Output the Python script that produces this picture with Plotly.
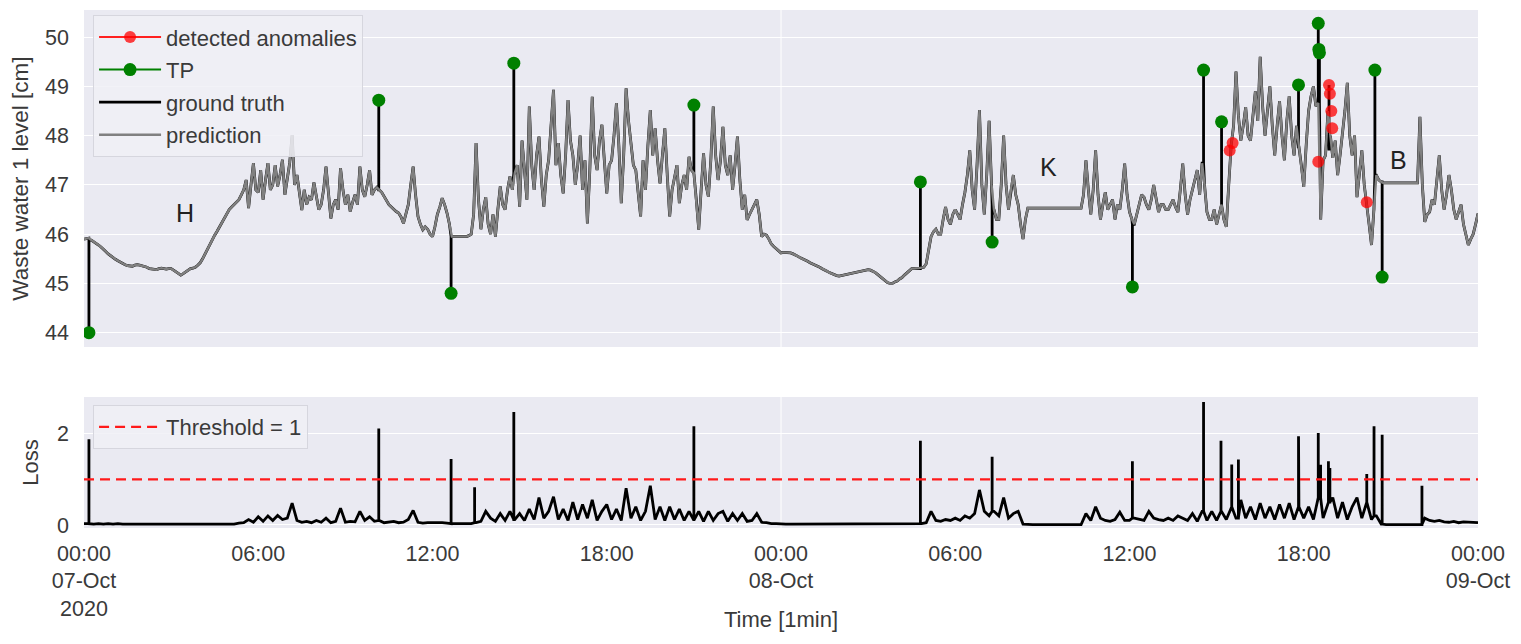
import datetime as dt
import plotly.graph_objects as go

START = dt.datetime(2020, 10, 7)
PRED_STEP_H = 1 / 12   # prediction read every 5 minutes
LOSS_STEP_H = 1 / 6    # loss read every 10 minutes

# ---- prediction (water level, cm): one row per hour, 5-minute steps ----
prediction = [
    45.90, 45.91, 45.92, 45.88, 45.85, 45.82, 45.78, 45.74, 45.70, 45.65, 45.60, 45.56,  # 00h
    45.52, 45.49, 45.46, 45.43, 45.40, 45.38, 45.36, 45.35, 45.35, 45.37, 45.38, 45.37,  # 01h
    45.36, 45.35, 45.33, 45.30, 45.29, 45.28, 45.28, 45.30, 45.31, 45.30, 45.29, 45.30,  # 02h
    45.30, 45.27, 45.24, 45.20, 45.17, 45.20, 45.23, 45.27, 45.30, 45.31, 45.33, 45.37,  # 03h
    45.42, 45.50, 45.60, 45.70, 45.80, 45.90, 45.98, 46.06, 46.15, 46.24, 46.32, 46.42,  # 04h
    46.50, 46.55, 46.60, 46.66, 46.70, 46.80, 46.90, 47.10, 46.53, 47.00, 47.44, 46.90,  # 05h
    46.85, 47.30, 46.70, 47.10, 47.44, 46.90, 47.00, 47.40, 46.97, 47.20, 47.51, 46.80,  # 06h
    47.10, 47.45, 48.01, 47.00, 47.20, 46.80, 46.49, 46.90, 46.60, 46.75, 46.70, 47.05,  # 07h
    46.75, 46.50, 46.60, 46.90, 47.37, 46.80, 46.32, 46.60, 46.70, 46.50, 47.34, 46.90,  # 08h
    46.60, 46.80, 46.46, 46.65, 46.80, 46.60, 47.37, 46.90, 46.76, 47.00, 47.30, 46.80,  # 09h
    46.90, 46.95, 46.90, 46.85, 46.76, 46.68, 46.60, 46.55, 46.50, 46.46, 46.43, 46.35,  # 10h
    46.22, 46.40, 46.60, 47.00, 47.37, 46.80, 46.36, 46.20, 46.09, 46.15, 46.10, 46.00,  # 11h
    45.95, 46.15, 46.40, 46.55, 46.73, 46.60, 46.43, 46.20, 45.95, 45.95, 45.95, 45.95,  # 12h
    45.95, 45.96, 45.95, 45.97, 46.00, 46.40, 47.85, 46.70, 46.10, 46.50, 46.75, 46.20,  # 13h
    46.00, 46.40, 45.95, 46.50, 46.97, 46.60, 46.50, 46.90, 47.17, 46.90, 47.24, 47.40,  # 14h
    46.56, 47.90, 47.30, 46.70, 48.59, 47.40, 46.90, 47.60, 47.98, 47.10, 46.56, 47.20,  # 15h
    47.51, 48.20, 48.93, 47.40, 47.85, 47.20, 46.83, 47.60, 48.72, 47.90, 47.60, 47.00,  # 16h
    47.40, 48.00, 46.90, 47.50, 46.22, 47.30, 48.79, 47.60, 47.30, 47.90, 48.22, 47.50,  # 17h
    46.83, 47.40, 47.50, 48.00, 48.66, 47.80, 46.63, 47.60, 48.96, 48.30, 47.91, 47.40,  # 18h
    47.30, 46.80, 46.36, 47.50, 46.90, 47.80, 48.52, 47.60, 48.15, 47.50, 47.03, 47.60,  # 19h
    48.15, 47.20, 46.36, 46.90, 47.17, 47.40, 46.63, 47.00, 47.20, 46.90, 47.57, 47.30,  # 20h
    47.24, 46.70, 46.09, 46.90, 47.64, 47.00, 46.76, 47.50, 48.59, 47.60, 47.10, 47.50,  # 21h
    48.18, 47.40, 47.20, 47.60, 46.90, 47.40, 47.98, 47.10, 46.50, 46.80, 46.29, 46.40,  # 22h
    46.50, 46.60, 46.70, 46.40, 45.95, 46.00, 45.98, 45.90, 45.80, 45.75, 45.70, 45.65,  # 23h
    45.62, 45.63, 45.63, 45.62, 45.62, 45.60, 45.58, 45.55, 45.52, 45.50, 45.47, 45.45,  # 24h
    45.42, 45.40, 45.38, 45.36, 45.33, 45.30, 45.28, 45.25, 45.22, 45.20, 45.17, 45.16,  # 25h
    45.15, 45.16, 45.18, 45.19, 45.20, 45.21, 45.22, 45.23, 45.24, 45.25, 45.25, 45.27,  # 26h
    45.28, 45.27, 45.25, 45.22, 45.18, 45.14, 45.10, 45.06, 45.02, 45.00, 45.00, 45.03,  # 27h
    45.05, 45.09, 45.12, 45.17, 45.22, 45.27, 45.30, 45.30, 45.30, 45.31, 45.32, 45.33,  # 28h
    45.40, 45.70, 45.95, 46.05, 46.10, 46.00, 46.00, 46.30, 46.55, 46.30, 46.20, 46.40,  # 29h
    46.50, 46.40, 46.30, 46.60, 46.85, 47.20, 47.70, 46.90, 46.50, 47.40, 48.52, 47.00,  # 30h
    46.40, 47.20, 48.30, 47.00, 46.50, 46.30, 46.30, 47.00, 48.00, 47.00, 46.50, 46.90,  # 31h
    47.20, 46.80, 46.60, 46.20, 45.90, 46.30, 46.53, 46.53, 46.53, 46.53, 46.53, 46.53,  # 32h
    46.53, 46.53, 46.53, 46.53, 46.53, 46.53, 46.53, 46.53, 46.53, 46.53, 46.53, 46.53,  # 33h
    46.53, 46.53, 46.53, 46.53, 46.53, 46.80, 47.50, 46.90, 46.40, 46.90, 47.70, 46.80,  # 34h
    46.30, 46.60, 46.85, 46.50, 46.60, 46.70, 46.30, 46.60, 46.50, 46.90, 47.43, 46.80,  # 35h
    46.45, 46.30, 46.20, 46.40, 46.60, 46.80, 46.75, 46.60, 46.50, 46.70, 47.00, 46.70,  # 36h
    46.45, 46.60, 46.60, 46.50, 46.50, 46.60, 46.70, 46.55, 46.45, 46.90, 47.43, 46.80,  # 37h
    46.40, 46.70, 46.90, 47.10, 47.30, 46.80, 47.44, 47.00, 46.45, 46.30, 46.30, 46.50,  # 38h
    46.20, 46.40, 46.60, 46.30, 46.15, 47.00, 47.80, 48.20, 49.30, 48.40, 47.90, 48.20,  # 39h
    48.58, 48.00, 47.90, 48.40, 48.90, 48.30, 49.60, 48.60, 48.00, 48.50, 49.00, 48.20,  # 40h
    47.60, 48.20, 48.70, 48.00, 47.50, 48.30, 48.80, 48.00, 47.60, 48.20, 47.77, 47.40,  # 41h
    46.96, 47.80, 48.50, 48.80, 49.00, 48.60, 48.66, 46.30, 47.50, 47.60, 48.50, 48.00,  # 42h
    47.55, 47.90, 47.20, 47.60, 48.00, 48.50, 49.07, 48.00, 47.60, 48.00, 46.75, 47.30,  # 43h
    47.70, 47.00, 46.65, 46.20, 45.78, 46.50, 47.20, 47.10, 47.06, 47.04, 47.04, 47.04,  # 44h
    47.04, 47.04, 47.04, 47.04, 47.04, 47.04, 47.04, 47.04, 47.04, 47.04, 47.04, 47.04,  # 45h
    48.38, 47.00, 46.25, 46.40, 46.45, 46.70, 46.60, 47.10, 47.60, 46.90, 46.50, 46.80,  # 46h
    47.20, 46.90, 46.50, 46.30, 46.45, 46.60, 46.20, 46.00, 45.78, 45.90, 46.00, 46.20,  # 47h
    46.42,                                                                              # 48h
]

# ---- loss: one row per hour, 10-minute steps ----
loss = [
    0.03, 0.03, 0.02, 0.03, 0.02, 0.03,   # 00h
    0.02, 0.03, 0.02, 0.02, 0.03, 0.02,
    0.02, 0.03, 0.02, 0.03, 0.02, 0.03,
    0.03, 0.02, 0.03, 0.02, 0.03, 0.02,
    0.03, 0.02, 0.03, 0.03, 0.02, 0.03,
    0.03, 0.02, 0.04, 0.05, 0.12, 0.06,   # 05h
    0.18, 0.08, 0.20, 0.10, 0.21, 0.12,
    0.15, 0.48, 0.10, 0.06, 0.08, 0.05,
    0.10, 0.06, 0.15, 0.05, 0.08, 0.37,
    0.06, 0.08, 0.07, 0.30, 0.10, 0.18,
    0.08, 0.10, 0.05, 0.06, 0.08, 0.05,   # 10h
    0.06, 0.12, 0.32, 0.06, 0.04, 0.05,
    0.05, 0.06, 0.05, 0.04, 0.03, 0.03,
    0.03, 0.04, 0.03, 0.05, 0.08, 0.30,
    0.15, 0.08, 0.25, 0.10, 0.30, 0.12,
    0.25, 0.10, 0.35, 0.12, 0.60, 0.15,   # 15h
    0.30, 0.62, 0.12, 0.35, 0.10, 0.50,
    0.12, 0.45, 0.15, 0.55, 0.10, 0.30,
    0.45, 0.12, 0.35, 0.10, 0.81, 0.15,
    0.40, 0.10, 0.30, 0.86, 0.12, 0.40,
    0.10, 0.40, 0.12, 0.35, 0.10, 0.30,   # 20h
    0.10, 0.30, 0.08, 0.30, 0.10, 0.25,
    0.30, 0.08, 0.25, 0.10, 0.25, 0.08,
    0.10, 0.25, 0.06, 0.05, 0.03, 0.03,
    0.02, 0.02, 0.02, 0.02, 0.02, 0.02,
    0.02, 0.02, 0.02, 0.02, 0.02, 0.02,   # 25h
    0.02, 0.02, 0.02, 0.02, 0.02, 0.02,
    0.02, 0.02, 0.02, 0.02, 0.02, 0.02,
    0.02, 0.02, 0.02, 0.03, 0.03, 0.03,
    0.05, 0.30, 0.10, 0.08, 0.12, 0.10,
    0.15, 0.10, 0.20, 0.15, 0.25, 0.77,   # 30h
    0.30, 0.20, 0.30, 0.20, 0.60, 0.15,
    0.25, 0.30, 0.02, 0.01, 0.01, 0.01,
    0.01, 0.01, 0.01, 0.01, 0.01, 0.01,
    0.01, 0.01, 0.01, 0.25, 0.10, 0.40,
    0.15, 0.10, 0.08, 0.12, 0.28, 0.10,   # 35h
    0.10, 0.15, 0.12, 0.10, 0.30, 0.15,
    0.12, 0.10, 0.15, 0.10, 0.20, 0.15,
    0.10, 0.25, 0.08, 0.30, 0.10, 0.30,
    0.10, 0.30, 0.12, 0.40, 0.15, 0.55,
    0.15, 0.40, 0.12, 0.48, 0.15, 0.40,   # 40h
    0.12, 0.45, 0.15, 0.48, 0.12, 0.40,
    0.15, 0.40, 0.12, 0.60, 0.15, 0.50,
    0.60, 0.15, 0.50, 0.12, 0.40, 0.60,
    0.15, 0.50, 0.12, 0.20, 0.02, 0.01,
    0.01, 0.01, 0.01, 0.01, 0.01, 0.01,   # 45h
    0.01, 0.15, 0.10, 0.08, 0.10, 0.07,
    0.06, 0.08, 0.05, 0.07, 0.06, 0.05,
    0.05,                                 # 48h
]

# ---- injected anomalies in the ground truth (hours since start) ----
anomaly_hours = [0.17, 10.15, 12.64, 14.80, 21.00, 28.80, 31.27, 36.10, 38.55,
                 39.17, 41.82, 42.50, 42.52, 42.54, 42.87, 44.45, 44.70]
anomaly_base = [45.88, 46.90, 45.95, 47.24, 47.24, 45.30, 46.60, 46.20, 47.44,
                46.60, 47.77, 48.66, 48.66, 48.66, 47.70, 47.20, 47.06]
anomaly_truth = [44.00, 48.72, 44.80, 49.47, 48.62, 47.06, 45.84, 44.93, 49.33,
                 48.28, 49.03, 50.28, 49.75, 49.68, 49.03, 49.33, 45.13]
anomaly_is_tp = [1, 1, 1, 1, 1, 1, 1, 1, 1, 1, 1, 1, 1, 1, 0, 1, 1]

# ---- detected anomalies ----
detected_hours = [39.45, 39.55, 42.50, 42.87, 42.90, 42.95, 42.98, 44.17]
detected_level = [47.70, 47.85, 47.47, 49.03, 48.85, 48.50, 48.15, 46.65]

# ---- single-minute loss spikes ----
loss_spike_hours = [0.17, 10.15, 12.64, 13.45, 14.80, 21.00, 28.80, 31.27, 36.10,
                    38.55, 39.15, 39.52, 39.75, 41.82, 42.50, 42.58, 42.85, 42.90,
                    44.17, 44.42, 44.70, 46.07]
loss_spike_value = [1.88, 2.12, 1.45, 0.83, 2.48, 2.17, 1.85, 1.50, 1.40,
                    2.70, 1.85, 1.33, 1.44, 1.95, 2.02, 1.32, 1.40, 1.25,
                    1.12, 2.17, 1.98, 0.86]

threshold = 1

region_labels = ["H", "K", "B"]
region_hours = [3.48, 33.2, 45.25]
region_level = [46.43, 47.36, 47.50]

tick_hours = [0, 6, 12, 18, 24, 30, 36, 42, 48]
tick_text = ["00:00<br>07-Oct<br>2020", "06:00", "12:00", "18:00", "00:00<br>08-Oct",
             "06:00", "12:00", "18:00", "00:00<br>09-Oct"]


def T(h):
    return START + dt.timedelta(hours=h)


pred_hours = [i * PRED_STEP_H for i in range(len(prediction))]
loss_hours = [i * LOSS_STEP_H for i in range(len(loss))]

# ground truth = prediction with the injected spikes
pts = [(h, 0, 0, v) for h, v in zip(pred_hours, prediction)]
for h, b, v in zip(anomaly_hours, anomaly_base, anomaly_truth):
    pts += [(h, 1, 0, b), (h, 1, 1, v), (h, 1, 2, b)]
pts.sort(key=lambda p: (p[0], p[1], p[2]))
gt_x = [T(p[0]) for p in pts]
gt_y = [p[3] for p in pts]

# loss with single-minute spikes
lp = [(h, 0, 0, v) for h, v in zip(loss_hours, loss)]
for h, v in zip(loss_spike_hours, loss_spike_value):
    base = loss[min(len(loss) - 1, round(h / LOSS_STEP_H))]
    lp += [(h, 1, 0, base), (h, 1, 1, v), (h, 1, 2, base)]
lp.sort(key=lambda p: (p[0], p[1], p[2]))
loss_x = [T(p[0]) for p in lp]
loss_y = [p[3] for p in lp]

tp_x, tp_y = [], []
for h, v, tp in zip(anomaly_hours, anomaly_truth, anomaly_is_tp):
    if tp:
        tp_x += [T(h), None]
        tp_y += [v, None]

det_x, det_y = [], []
for h, v in zip(detected_hours, detected_level):
    det_x += [T(h), None]
    det_y += [v, None]

FONT = "Liberation Sans, Arial, sans-serif"
TXT = "#3a3a3a"
BG = "#EAEAF2"

fig = go.Figure()

fig.add_trace(go.Scatter(x=gt_x, y=gt_y, mode="lines", name="ground truth",
                         line=dict(color="black", width=2.8), legendrank=3,
                         legendgroup="g3", xaxis="x", yaxis="y"))
fig.add_trace(go.Scatter(x=[T(h) for h in pred_hours], y=prediction, mode="lines",
                         name="prediction", line=dict(color="#808080", width=2.4),
                         legendrank=4, legendgroup="g4", xaxis="x", yaxis="y"))
fig.add_trace(go.Scatter(x=tp_x, y=tp_y, mode="lines+markers", name="TP",
                         connectgaps=False,
                         line=dict(color="green", width=2),
                         marker=dict(color="green", size=13),
                         legendrank=2, legendgroup="g2", xaxis="x", yaxis="y"))
fig.add_trace(go.Scatter(x=det_x, y=det_y, mode="lines+markers", name="detected anomalies",
                         connectgaps=False,
                         line=dict(color="#ff2020", width=2),
                         marker=dict(color="rgba(255,0,0,0.75)", size=12),
                         legendrank=1, legendgroup="g1", xaxis="x", yaxis="y"))

fig.add_trace(go.Scatter(x=loss_x, y=loss_y, mode="lines", showlegend=False,
                         line=dict(color="black", width=2.8), xaxis="x2", yaxis="y2"))
fig.add_trace(go.Scatter(x=[T(0), T(48)], y=[threshold, threshold], mode="lines",
                         name="Threshold = %g" % threshold, legend="legend2",
                         line=dict(color="#ff1a1a", width=2.2, dash="10px,6px"),
                         xaxis="x2", yaxis="y2"))

for lab, h, v in zip(region_labels, region_hours, region_level):
    fig.add_annotation(x=T(h), y=v, xref="x", yref="y", text=lab, showarrow=False,
                       font=dict(size=25, color="#222222", family=FONT))

# x-axis title placed below the three-line tick labels
fig.add_annotation(x=0.5, y=-0.176, xref="paper", yref="paper", text="Time [1min]",
                   showarrow=False, xanchor="center", yanchor="middle",
                   font=dict(size=22, color=TXT, family=FONT))

for ax in ("x", "x2"):
    yref = "y domain" if ax == "x" else "y2 domain"
    fig.add_shape(type="line", xref=ax, yref=yref, x0=T(24), x1=T(24), y0=0, y1=1,
                  line=dict(color="white", width=1), layer="below")

xcommon = dict(range=[T(0), T(48)], showgrid=False, zeroline=False, showline=False,
               ticks="", tickvals=[T(h) for h in tick_hours], ticktext=tick_text,
               tickfont=dict(size=21.5), automargin=False)
ycommon = dict(showgrid=True, gridcolor="white", gridwidth=1.2, zeroline=False,
               ticks="", ticklabelstandoff=14, tickfont=dict(size=21.5), automargin=False)

fig.update_layout(
    width=1505, height=628, autosize=False,
    margin=dict(l=76, r=35, t=2, b=108),
    paper_bgcolor="white", plot_bgcolor=BG,
    font=dict(family=FONT, size=21.5, color=TXT),
    xaxis=dict(domain=[0, 1], anchor="y", matches="x2", showticklabels=False, **xcommon),
    yaxis=dict(domain=[0.3494, 1], anchor="x", range=[43.71, 50.55],
               tickvals=[44, 45, 46, 47, 48, 49, 50],
               title=dict(text="Waste water 1 level [cm]", standoff=12,
                          font=dict(size=22.5)), **ycommon),
    xaxis2=dict(domain=[0, 1], anchor="y2", ticklabelstandoff=10, **xcommon),
    yaxis2=dict(domain=[0, 0.2529], anchor="x2", range=[-0.066, 2.81],
                tickvals=[0, 2],
                title=dict(text="Loss", standoff=12, font=dict(size=22)), **ycommon),
    legend=dict(x=0.0065, y=0.99, xanchor="left", yanchor="top",
                bgcolor="rgba(240,240,246,0.85)", bordercolor="#d6d6de", borderwidth=1,
                font=dict(size=22, color=TXT), tracegroupgap=1, traceorder="grouped",
                itemwidth=62),
    legend2=dict(x=0.0065, y=0.2375, xanchor="left", yanchor="top",
                 bgcolor="rgba(240,240,246,0.85)", bordercolor="#d6d6de", borderwidth=1,
                 font=dict(size=22, color=TXT), itemwidth=62),
    showlegend=True,
)

fig.write_html("out.html")
